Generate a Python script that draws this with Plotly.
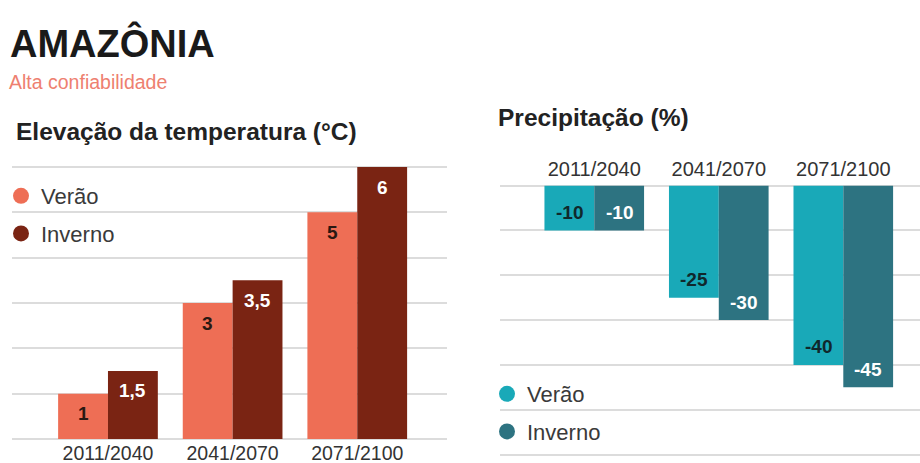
import plotly.graph_objects as go

# ---------------- data ----------------
periods = ["2011/2040", "2041/2070", "2071/2100"]
series_names = ["Verão", "Inverno"]
temp_verao = [1, 3, 5]
temp_inverno = [1.5, 3.5, 6]
prec_verao = [-10, -25, -40]
prec_inverno = [-10, -30, -45]

title_main = "AMAZÔNIA"
subtitle = "Alta confiabilidade"
title_temp = "Elevação da temperatura (°C)"
title_prec = "Precipitação (%)"

# ---------------- styles ----------------
temp_colors = ["#EE6E55", "#7A2413"]
prec_colors = ["#19A9B8", "#2D7381"]
temp_label_colors = ["#2a1812", "#ffffff"]
prec_label_colors = ["#10282c", "#ffffff"]
FONT = "Arial, Liberation Sans, Helvetica, sans-serif"
GRID = "#dcdcdc"
W, H = 920, 463
BARGAP = 0.2


def fx(p):
    return p / W


def fy(p):
    return 1 - p / H


def fmt(v):
    s = ("%g" % v)
    return s.replace(".", ",")


fig = go.Figure()

temp_series = [temp_verao, temp_inverno]
prec_series = [prec_verao, prec_inverno]

for k, name in enumerate(series_names):
    fig.add_trace(go.Bar(x=periods, y=temp_series[k], name=name,
                         marker=dict(color=temp_colors[k], line=dict(width=0)),
                         xaxis="x", yaxis="y", showlegend=False, hoverinfo="skip"))
for k, name in enumerate(series_names):
    fig.add_trace(go.Bar(x=periods, y=prec_series[k], name=name,
                         marker=dict(color=prec_colors[k], line=dict(width=0)),
                         xaxis="x2", yaxis="y2", showlegend=False, hoverinfo="skip"))

# legend entries (circle markers)
for k, name in enumerate(series_names):
    fig.add_trace(go.Scatter(x=[None], y=[None], mode="markers", name=name,
                             marker=dict(size=20, color=temp_colors[k], symbol="circle"),
                             xaxis="x", yaxis="y", legend="legend",
                             legendgroup="t%d" % k))
for k, name in enumerate(series_names):
    fig.add_trace(go.Scatter(x=[None], y=[None], mode="markers", name=name,
                             marker=dict(size=20, color=prec_colors[k], symbol="circle"),
                             xaxis="x2", yaxis="y2", legend="legend2",
                             legendgroup="p%d" % k))

annotations = []
off = (1 - BARGAP) / 4
for k in range(2):
    sign = -1 if k == 0 else 1
    for i, v in enumerate(temp_series[k]):
        annotations.append(dict(x=i + sign * off, y=v, xref="x", yref="y",
                                text=fmt(v), showarrow=False, yshift=-20,
                                yanchor="middle", xanchor="center",
                                font=dict(family=FONT, size=19, color=temp_label_colors[k],
                                          weight="bold")))
    for i, v in enumerate(prec_series[k]):
        annotations.append(dict(x=i + sign * off, y=v, xref="x2", yref="y2",
                                text=fmt(v), showarrow=False, yshift=18,
                                yanchor="middle", xanchor="center",
                                font=dict(family=FONT, size=19, color=prec_label_colors[k],
                                          weight="bold")))

annotations += [
    dict(x=fx(8), y=fy(43), xref="paper", yref="paper", text=title_main,
         showarrow=False, xanchor="left", yanchor="middle",
         font=dict(family=FONT, size=38, color="#1a1a1a", weight="bold")),
    dict(x=fx(7), y=fy(82), xref="paper", yref="paper", text=subtitle,
         showarrow=False, xanchor="left", yanchor="middle",
         font=dict(family=FONT, size=19.5, color="#EE8070")),
    dict(x=fx(14), y=fy(131), xref="paper", yref="paper", text=title_temp,
         showarrow=False, xanchor="left", yanchor="middle",
         font=dict(family=FONT, size=24.5, color="#222222", weight="bold")),
    dict(x=fx(496), y=fy(118), xref="paper", yref="paper", text=title_prec,
         showarrow=False, xanchor="left", yanchor="middle",
         font=dict(family=FONT, size=24.5, color="#222222", weight="bold")),
]

fig.update_layout(
    width=W, height=H,
    margin=dict(l=0, r=0, t=0, b=0, autoexpand=False),
    paper_bgcolor="white", plot_bgcolor="white",
    barmode="group", bargap=BARGAP, bargroupgap=0,
    font=dict(family=FONT, color="#333333"),
    annotations=annotations,
    xaxis=dict(domain=[fx(12), fx(447)], anchor="y", range=[-0.77, 2.72],
               automargin=False, ticklabelstandoff=-4,
               showgrid=False, zeroline=False, showline=False, ticks="",
               tickfont=dict(family=FONT, size=19.5, color="#333333")),
    yaxis=dict(domain=[fy(443.5), fy(162.5)], anchor="x", range=[-0.1, 6.1],
               automargin=False,
               dtick=1, tick0=0, showgrid=True, gridcolor=GRID, gridwidth=1.5,
               zeroline=False, showticklabels=False, ticks=""),
    xaxis2=dict(domain=[fx(500), 1.0], anchor="y2", side="top", range=[-0.757, 2.616],
                automargin=False,
                showgrid=False, zeroline=False, showline=False, ticks="",
                tickfont=dict(family=FONT, size=20, color="#333333")),
    yaxis2=dict(domain=[fy(459), fy(181.2)], anchor="x2", range=[-61, 1],
                automargin=False,
                dtick=10, tick0=0, showgrid=True, gridcolor=GRID, gridwidth=1.5,
                zeroline=False, showticklabels=False, ticks=""),
    legend=dict(x=fx(1), xanchor="left", y=fy(175), yanchor="top",
                bgcolor="rgba(0,0,0,0)", tracegroupgap=6, itemwidth=30,
                font=dict(family=FONT, size=22, color="#3a3a3a")),
    legend2=dict(x=fx(487), xanchor="left", y=fy(373), yanchor="top",
                 bgcolor="rgba(0,0,0,0)", tracegroupgap=6, itemwidth=30,
                 font=dict(family=FONT, size=22, color="#3a3a3a")),
    showlegend=True,
)

fig.write_html("out.html", config={"displayModeBar": False},
               post_script="document.body.style.margin='0px';document.body.style.overflow='hidden';")
